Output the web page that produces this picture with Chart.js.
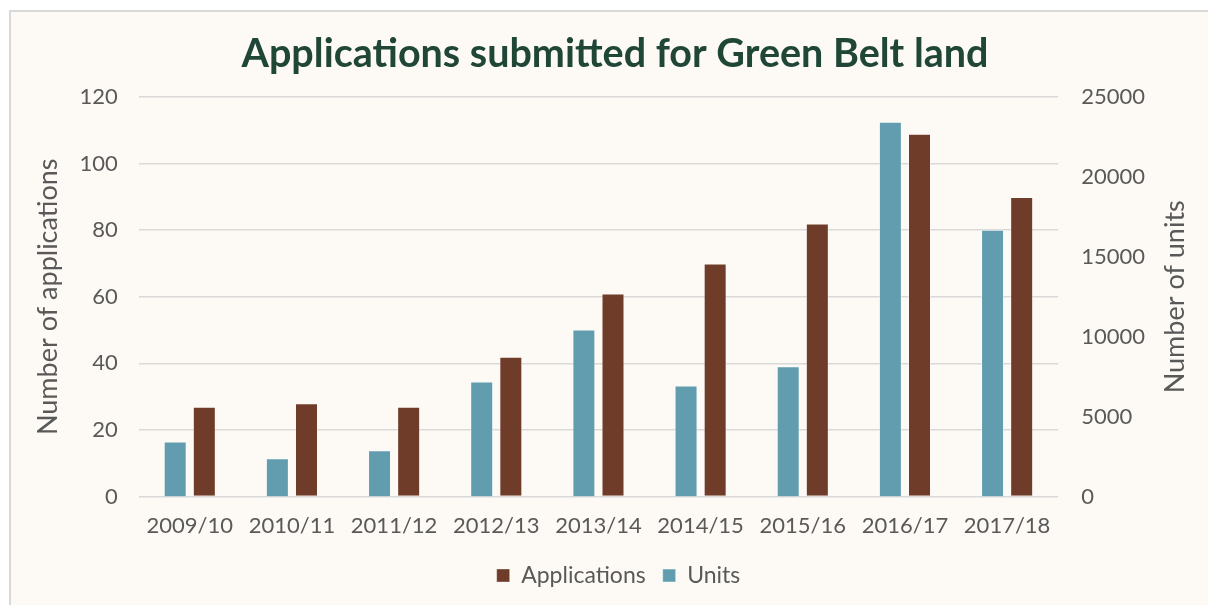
<!DOCTYPE html>
<html>
<head>
<meta charset="utf-8">
<script src="https://cdn.jsdelivr.net/npm/chart.js@4/dist/chart.umd.min.js"></script>
<style>
  html, body { margin: 0; padding: 0; background: #ffffff; width: 1208px; height: 605px; overflow: hidden; }
  #frame { position: absolute; left: 9px; top: 10px; width: 1199px; height: 595px;
           background: #fdfaf5; border-top: 2px solid #d9d9d9; border-left: 2px solid #d9d9d9; box-sizing: border-box; }
  #c { position: absolute; left: 0; top: 0; }
</style>
</head>
<body>
<div id="frame"></div>
<canvas id="c" width="1208" height="605"></canvas>
<script>
const categories = ["2009/10","2010/11","2011/12","2012/13","2013/14","2014/15","2015/16","2016/17","2017/18"];
const applications = [27, 28, 27, 42, 61, 70, 82, 109, 90];
const units = [3450, 2400, 2900, 7200, 10450, 6950, 8150, 23450, 16700];
const leftTicks = [0, 20, 40, 60, 80, 100, 120];
const rightTicks = [0, 5000, 10000, 15000, 20000, 25000];
const chartTitle = 'Applications submitted for Green Belt land';
const rightAxisTitle = 'Number of units';

const FONT = "Lato, 'Noto Sans', sans-serif";
const TICK_COLOR = "#595959";

const textPlugin = {
  id: 'extraText',
  afterLayout(chart) {
    if (chart.legend) { chart.legend.left += 21; chart.legend.right += 21; }
  },
  afterDraw(chart) {
    const s = chart.scales.y1;
    const ctx = chart.ctx;
    ctx.save();
    ctx.font = "bold 39.5px " + FONT;
    ctx.fillStyle = '#1f4637';
    ctx.textAlign = 'center';
    ctx.textBaseline = 'middle';
    ctx.fillText(chartTitle, 615, 54);
    ctx.translate(1175, (s.top + s.bottom) / 2);
    ctx.rotate(-Math.PI / 2);
    ctx.font = "27px " + FONT;
    ctx.fillStyle = TICK_COLOR;
    ctx.fillText(rightAxisTitle, 0, 0);
    ctx.restore();
  }
};

new Chart(document.getElementById('c'), {
  type: 'bar',
  data: {
    labels: categories,
    datasets: [
      { label: 'Units', data: units, yAxisID: 'y1', backgroundColor: '#619daf',
        borderColor: 'rgba(255,255,255,0.45)', borderWidth: 1,
        categoryPercentage: 0.57, barPercentage: 0.79 },
      { label: 'Applications', data: applications, yAxisID: 'y', backgroundColor: '#6f3c2a',
        borderColor: 'rgba(255,255,255,0.35)', borderWidth: 1,
        categoryPercentage: 0.57, barPercentage: 0.79 }
    ]
  },
  options: {
    responsive: false,
    devicePixelRatio: 1,
    animation: false,
    layout: { padding: { top: 97, left: 27, right: 40, bottom: 8 } },
    plugins: {
      title: { display: false },
      legend: { position: 'bottom', reverse: true,
                labels: { boxWidth: 13, boxHeight: 13, padding: 17, color: TICK_COLOR,
                          font: { family: FONT, size: 23 } } },
      tooltip: { enabled: false }
    },
    scales: {
      x: {
        grid: { display: false },
        border: { display: false },
        ticks: { color: TICK_COLOR, font: { family: FONT, size: 22 }, padding: 8, maxRotation: 0 }
      },
      y: {
        position: 'left', min: 0, max: 120,
        afterBuildTicks: (s) => { s.ticks = leftTicks.map(v => ({ value: v })); },
        grid: { color: '#d9d9d9', lineWidth: 1.5, drawTicks: false },
        border: { display: false },
        ticks: { color: TICK_COLOR, font: { family: FONT, size: 22 }, padding: 21,
                 callback: (v) => String(v) },
        title: { display: true, text: 'Number of applications', color: TICK_COLOR,
                 font: { family: FONT, size: 27 }, padding: { top: 5, bottom: -6 } }
      },
      y1: {
        position: 'right', min: 0, max: 25000,
        afterBuildTicks: (s) => { s.ticks = rightTicks.map(v => ({ value: v })); },
        grid: { display: false, drawTicks: false },
        border: { display: false },
        ticks: { color: TICK_COLOR, font: { family: FONT, size: 22 }, padding: 23,
                 callback: (v) => String(v) }
      }
    }
  },
  plugins: [textPlugin]
});
</script>
</body>
</html>
